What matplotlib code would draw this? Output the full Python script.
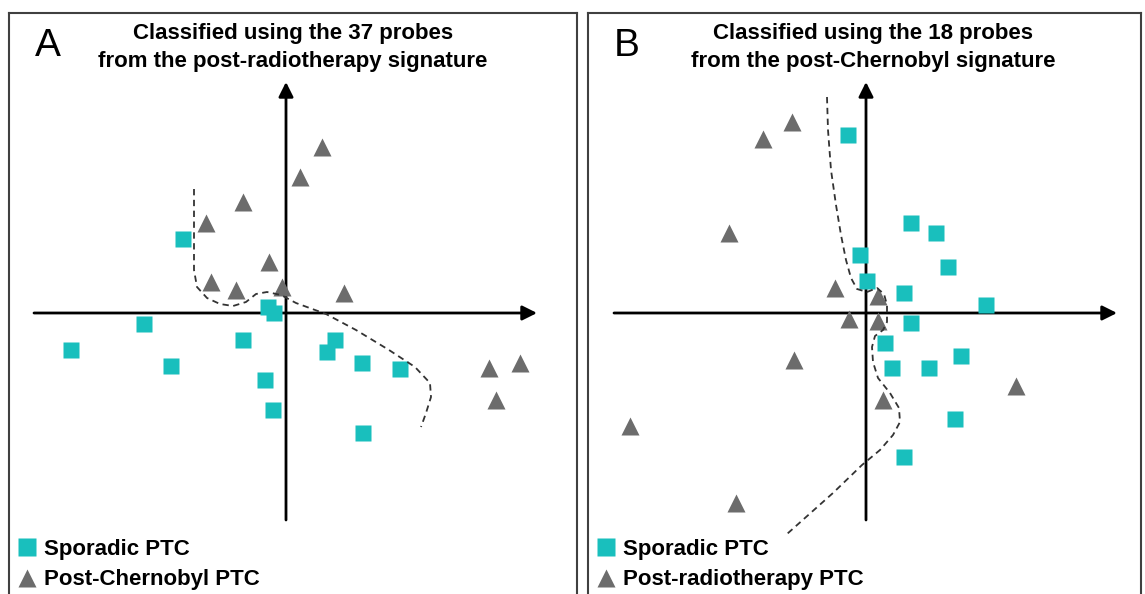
''' Two-panel PCA-style classification plot of PTC samples '''

import numpy as np
import matplotlib.pyplot as plt

plt.rcParams['font.family'] = ['Liberation Sans', 'DejaVu Sans']

TEAL = '#19bfbd'
GREY = '#6c6c6c'

# ---- panel A: 37 probes from the post-radiotherapy signature
a_sporadic_x = [-5.15, -0.9, -0.6, -7.1, -10.75, -2.15, -5.75, 2.45, 2.05, 3.8, 5.7, -1.05, -0.65, 3.85]
a_sporadic_y = [3.7, 0.3, 0.0, -0.55, -1.85, -1.35, -2.65, -1.35, -1.95, -2.5, -2.8, -3.35, -4.85, -6.0]
a_chern_x = [1.8, 0.7, -2.15, -4.0, -0.85, -3.75, -2.5, -0.2, 2.9, 10.15, 11.7, 10.5]
a_chern_y = [8.3, 6.8, 5.55, 4.5, 2.55, 1.55, 1.15, 1.3, 1.0, -2.75, -2.5, -4.35]
a_bound_x = [-4.6, -4.6, -4.6, -4.45, -3.95, -3.3, -2.65, -2.0, -1.5, -0.95, -0.25, 0.5,
             2.0, 3.5, 5.15, 6.45, 7.2, 7.25, 7.0, 6.75]
a_bound_y = [6.2, 4.15, 2.15, 1.3, 0.75, 0.45, 0.35, 0.55, 0.95, 1.05, 0.9, 0.5,
             -0.05, -0.85, -1.85, -2.7, -3.5, -4.2, -5.0, -5.7]

# ---- panel B: 18 probes from the post-Chernobyl signature
b_sporadic_x = [-0.9, 2.25, 3.5, -0.3, 4.1, 0.05, 1.9, 6.0, 2.25, 0.95, 4.75, 1.3, 3.15, 4.45, 1.9]
b_sporadic_y = [8.9, 4.5, 4.0, 2.9, 2.3, 1.6, 1.0, 0.4, -0.5, -1.5, -2.15, -2.75, -2.75, -5.3, -7.2]
b_radio_x = [-3.7, -5.15, -6.85, -1.55, 0.6, -0.85, 0.6, -3.6, 7.5, 0.85, -11.8, -6.5]
b_radio_y = [9.55, 8.7, 4.0, 1.25, 0.85, -0.3, -0.4, -2.35, -3.65, -4.35, -5.65, -9.5]
b_bound_x = [-1.95, -1.9, -1.75, -1.5, -1.25, -1.0, -0.75, -0.45, 0.05, 0.55, 0.9, 1.05, 1.05,
             0.85, 0.45, 0.3, 0.35, 0.6, 1.2, 1.65, 1.7, 1.35, 0.7, -0.2, -1.65, -3.95]
b_bound_y = [10.8, 9.15, 7.15, 5.4, 3.9, 2.65, 1.75, 1.2, 1.05, 1.25, 0.95, 0.4, -0.45,
             -0.85, -1.15, -1.7, -2.45, -3.25, -4.0, -4.75, -5.45, -6.1, -6.85, -7.6, -9.0, -11.05]

W, H = 1145, 594
fig = plt.figure(figsize=(W / 100, H / 100), dpi=100)


def make_panel(left, right, ox, letter, title, s_x, s_y, t_x, t_y, t_label, bx, by):
    top, bottom, oy = 13, 600, 313
    ax = fig.add_axes([left / W, 1 - bottom / H, (right - left) / W, (bottom - top) / H])
    ax.set_xlim((left - ox) / 20, (right - ox) / 20)
    ax.set_ylim((oy - bottom) / 20, (oy - top) / 20)
    ax.set_xticks([])
    ax.set_yticks([])
    for sp in ax.spines.values():
        sp.set_color('#404040')
        sp.set_linewidth(1.5)

    arrow = dict(arrowstyle='-|>', lw=2, color='black', mutation_scale=22, shrinkA=0, shrinkB=0)
    ax.annotate('', xy=(12.55, 0), xytext=(-12.6, 0), arrowprops=arrow)
    ax.annotate('', xy=(0, 11.55), xytext=(0, -10.35), arrowprops=arrow)

    ax.plot(s_x, s_y, 's', ms=12.2, color=TEAL, mec='none', zorder=3, label='Sporadic PTC')
    ax.plot(t_x, t_y, '^', ms=12.5, color=GREY, mec='none', zorder=3, label=t_label)
    ax.plot(bx, by, ls=(0, (3.5, 2.5)), lw=1.3, color='#333333', zorder=4)

    ax.text((left + 26) / W, 1 - 46 / H, letter, transform=fig.transFigure,
            fontsize=28, ha='left', va='center')
    cx = (ox + 7) / W
    ax.text(cx, 1 - 34 / H, title[0], transform=fig.transFigure, fontsize=16,
            fontweight='bold', ha='center', va='center')
    ax.text(cx, 1 - 61 / H, title[1], transform=fig.transFigure, fontsize=16,
            fontweight='bold', ha='center', va='center')

    ax.legend(loc='upper left', bbox_to_anchor=((left + 11) / W, 1 - 538.5 / H),
              bbox_transform=fig.transFigure, frameon=False,
              prop={'weight': 'bold', 'size': 16}, handlelength=0.6, handletextpad=0.5,
              borderpad=0, borderaxespad=0, labelspacing=0.45, markerscale=1.05)
    return ax


make_panel(9, 577, 286, 'A',
           ['Classified using the 37 probes', 'from the post-radiotherapy signature'],
           a_sporadic_x, a_sporadic_y, a_chern_x, a_chern_y, 'Post-Chernobyl PTC',
           a_bound_x, a_bound_y)
make_panel(588, 1141, 866, 'B',
           ['Classified using the 18 probes', 'from the post-Chernobyl signature'],
           b_sporadic_x, b_sporadic_y, b_radio_x, b_radio_y, 'Post-radiotherapy PTC',
           b_bound_x, b_bound_y)

fig.savefig('out.png', dpi=100)
